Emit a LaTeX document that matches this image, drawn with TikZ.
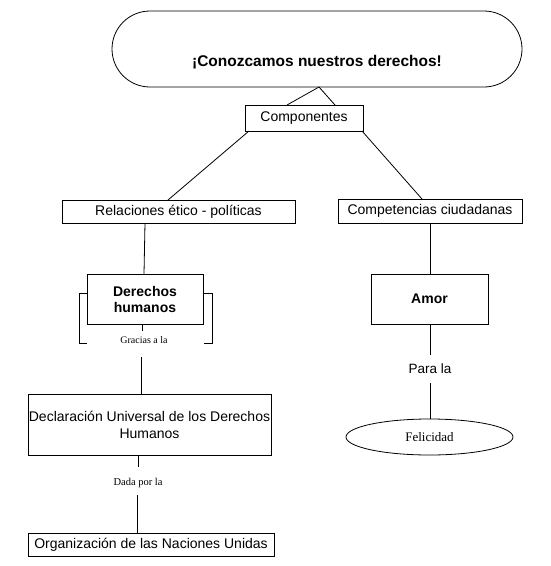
\documentclass[tikz,border=0pt]{standalone}
\usepackage{fontspec}
\setmainfont{Liberation Serif}
\setsansfont{Liberation Sans}
\usetikzlibrary{shapes.geometric}
\tikzset{
  base/.style={inner sep=0pt, outer sep=0pt, align=center},
  box/.style={base, draw, line width=0.8pt, font=\sffamily\fontsize{14}{16}\selectfont},
  boldbox/.style={box, font=\sffamily\bfseries\fontsize{14}{16}\selectfont},
  serifsmall/.style={base, font=\rmfamily\fontsize{10}{12}\selectfont},
  conn/.style={line width=0.8pt},
}
\begin{document}
\begin{tikzpicture}[x=1pt,y=-1pt]
\useasboundingbox (0,0) rectangle (550,566);
% title
\node[base, draw, line width=0.8pt, rounded corners=38pt, minimum width=410pt, minimum height=76pt] (top) at (317,49) {};
\node[base, font=\sffamily\bfseries\fontsize{15.5}{18}\selectfont] (toptxt) at (317,62) {¡Conozcamos nuestros derechos!};
% boxes
\node[box, minimum width=118pt, minimum height=26pt] (comp) at (304,118) {Componentes};
\node[box, minimum width=233pt, minimum height=23pt] (rel) at (178.5,211.5) {Relaciones ético - políticas};
\node[box, minimum width=184pt, minimum height=24pt] (compet) at (430,211) {Competencias ciudadanas};
\node[boldbox, minimum width=116pt, minimum height=50pt] (der) at (145,299) {Derechos\\humanos};
\node[boldbox, minimum width=117pt, minimum height=50pt] (amor) at (429.5,299) {Amor};
\node[serifsmall] (grac) at (144,340) {Gracias a la};
\node[box, minimum width=243pt, minimum height=61pt, font=\sffamily\fontsize{14}{17}\selectfont] (decl) at (149.5,424.5) {Declaración Universal de los Derechos\\Humanos};
\node[serifsmall, font=\rmfamily\fontsize{10.5}{12}\selectfont] (dada) at (138,483) {Dada por la};
\node[box, minimum width=246pt, minimum height=23pt] (onu) at (151,544.5) {Organización de las Naciones Unidas};
\node[base, font=\sffamily\fontsize{13.5}{16}\selectfont, minimum height=28pt] (para) at (430,369) {Para la};
\node[base, draw, line width=0.8pt, ellipse, minimum width=167pt, minimum height=36pt, font=\rmfamily\fontsize{13}{15}\selectfont] (fel) at (429.5,437) {Felicidad};
% coordinates for free ends
\coordinate (g1) at (142,331);
\coordinate (g2) at (141,357);
\coordinate (d1) at (138,467);
\coordinate (d2) at (137,495);
% connectors
\draw[conn] ([xshift=2pt]top.south) -- ([xshift=-17pt]comp.north);
\draw[conn] ([xshift=2pt]top.south) -- ([xshift=31pt]comp.north);
\draw[conn] ([xshift=4pt]comp.south west) -- ([xshift=-10.5pt]rel.north);
\draw[conn] ([xshift=-1pt]comp.south east) -- ([xshift=-8pt]compet.north);
\draw[conn] ([xshift=-33.5pt]rel.south) -- ([xshift=-1pt]der.north);
\draw[conn] ([xshift=-3pt]der.south) -- (g1);
\draw[conn] (g2) -- ([xshift=-8.5pt]decl.north);
\draw[conn] ([xshift=-11.5pt]decl.south) -- (d1);
\draw[conn] (d2) -- ([xshift=-14pt]onu.north);
\draw[conn] (compet.south) -- ([xshift=0.5pt]amor.north);
\draw[conn] ([xshift=0.5pt]amor.south) -- (para.north);
\draw[conn] (para.south) -- ([xshift=0.5pt]fel.north);
% brackets around Derechos humanos
\draw[conn] (der.west |- 0,293) -- (79,293) -- (79,343) -- (87,343);
\draw[conn] (der.east |- 0,293) -- (212,293) -- (212,343) -- (204,343);
\end{tikzpicture}
\end{document}
